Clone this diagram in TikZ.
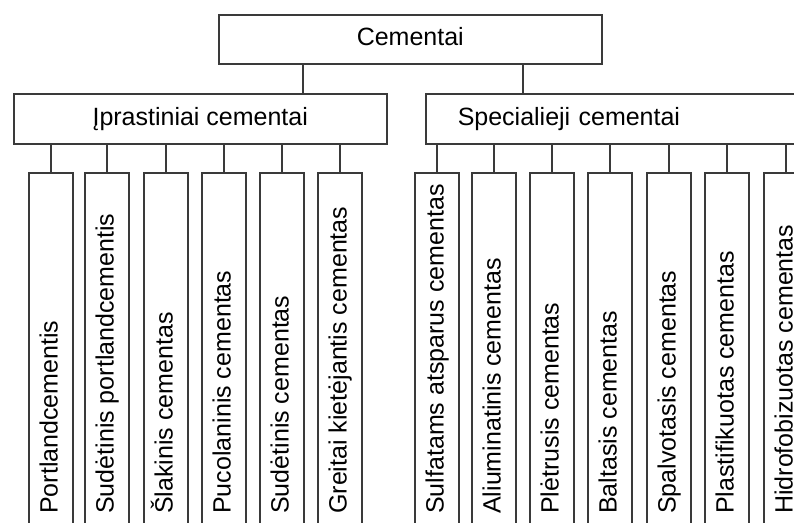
\documentclass[tikz,border=0pt]{standalone}
\usepackage{fontspec}
\setmainfont{Liberation Sans}
\usetikzlibrary{positioning, calc}
\definecolor{lnclr}{HTML}{3A3A3A}
\newcommand{\leaflabel}[1]{\makebox[310pt][l]{#1}}

\begin{document}
\begin{tikzpicture}[
  x=1pt, y=-1pt,
  box/.style={draw=lnclr, line width=1.5pt, fill=white, inner sep=0pt,
    font=\fontsize{25}{30}\selectfont, text height=18pt, text depth=5pt},
  leaf/.style={box, rotate=90, anchor=east, minimum height=44pt, inner xsep=31pt},
  link/.style={lnclr, line width=1.5pt},
]

% Page: 794 x 522, y runs downward
\useasboundingbox (0,0) rectangle (794,522);
\clip (0,0) rectangle (794,522);

% Top level
\node[box, anchor=north west, minimum width=383pt, minimum height=49pt]
  (cem) at (218,14) {Cementai};

% Second level
\node[box, anchor=north west, minimum width=373pt, minimum height=50pt]
  (ipr) at (13,93) {Įprastiniai cementai};
\node[box, anchor=north west, minimum height=50pt, text width=420pt,
  align=left, inner xsep=32pt]
  (spc) at (425,93) {Specialieji cementai};

\draw[link] (cem.south -| 303,0) -- (ipr.north -| 303,0);
\draw[link] (cem.south -| 523,0) -- (spc.north -| 523,0);

% --- Iprastiniai cementai: children ---
\node[leaf] (p1) at (51,172) {\leaflabel{Portlandcementis}};
\node[leaf] (p2) at (107,172) {\leaflabel{Sudėtinis portlandcementis}};
\node[leaf] (p3) at (166,172) {\leaflabel{Šlakinis cementas}};
\node[leaf] (p4) at (224,172) {\leaflabel{Pucolaninis cementas}};
\node[leaf] (p5) at (282,172) {\leaflabel{Sudėtinis cementas}};
\node[leaf] (p6) at (340,172) {\leaflabel{Greitai kietėjantis cementas}};

\draw[link] (ipr.south -| p1.east) -- (p1.east);
\draw[link] (ipr.south -| p2.east) -- (p2.east);
\draw[link] (ipr.south -| p3.east) -- (p3.east);
\draw[link] (ipr.south -| p4.east) -- (p4.east);
\draw[link] (ipr.south -| p5.east) -- (p5.east);
\draw[link] (ipr.south -| p6.east) -- (p6.east);

% --- Specialieji cementai: children ---
\node[leaf] (s1) at (437,172) {\leaflabel{Sulfatams atsparus cementas}};
\node[leaf] (s2) at (494,172) {\leaflabel{Aliuminatinis cementas}};
\node[leaf] (s3) at (552,172) {\leaflabel{Plėtrusis cementas}};
\node[leaf] (s4) at (610,172) {\leaflabel{Baltasis cementas}};
\node[leaf] (s5) at (669,172) {\leaflabel{Spalvotasis cementas}};
\node[leaf] (s6) at (727,172) {\leaflabel{Plastifikuotas cementas}};
\node[leaf] (s7) at (786,172) {\leaflabel{Hidrofobizuotas cementas}};

\draw[link] (spc.south -| s1.east) -- (s1.east);
\draw[link] (spc.south -| s2.east) -- (s2.east);
\draw[link] (spc.south -| s3.east) -- (s3.east);
\draw[link] (spc.south -| s4.east) -- (s4.east);
\draw[link] (spc.south -| s5.east) -- (s5.east);
\draw[link] (spc.south -| s6.east) -- (s6.east);
\draw[link] (spc.south -| s7.east) -- (s7.east);

\end{tikzpicture}
\end{document}
